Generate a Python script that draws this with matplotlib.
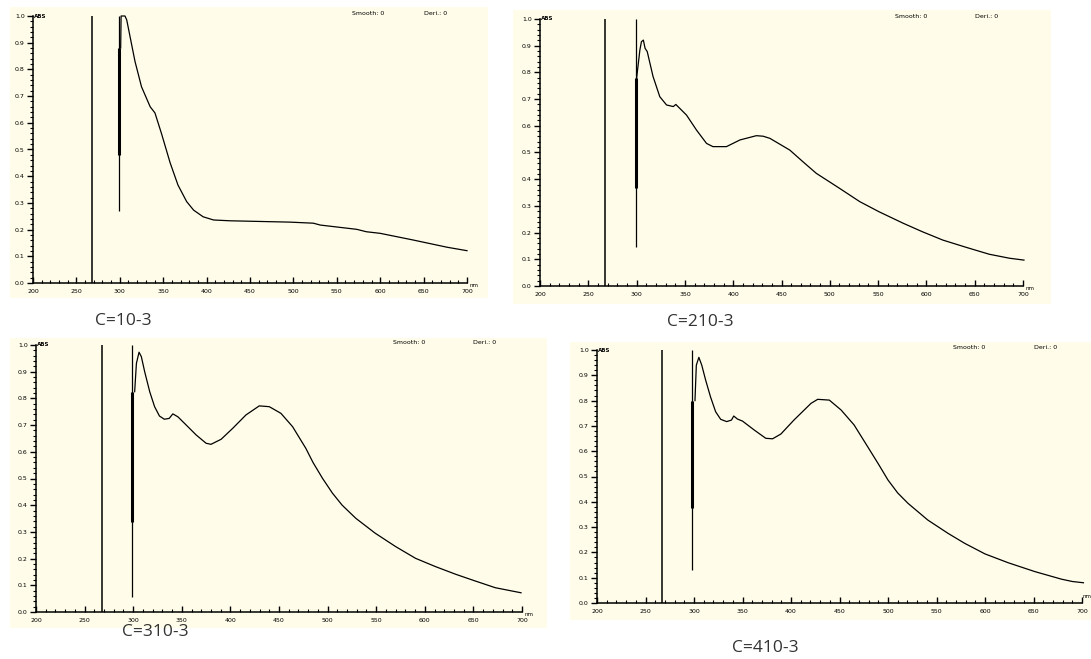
import matplotlib.pyplot as plt
from matplotlib.patches import Rectangle
from matplotlib.ticker import MultipleLocator, FormatStrFormatter

W, H = 1091, 659

# absorbance spectra, wavelength in nm
wl_1 = [301, 301.5, 306, 308, 317.5, 325, 335, 340.5, 348, 358, 367, 377, 385,
        396, 408, 427, 496, 523, 531, 573, 584, 600, 638, 677, 700]
abs_1 = [0.88, 1.0, 1.0, 0.985, 0.83, 0.735, 0.66, 0.637, 0.56, 0.45, 0.367,
         0.305, 0.273, 0.248, 0.236, 0.233, 0.228, 0.224, 0.217, 0.201, 0.192,
         0.186, 0.161, 0.134, 0.121]

wl_2 = [300, 303.4, 305, 307, 308.8, 311, 317, 324, 331, 338, 340.6, 351.7, 362,
        372.4, 379, 393, 407, 424, 431, 438, 458.6, 472, 486, 510, 531, 551,
        576, 596, 617, 641, 665, 686, 701]
abs_2 = [0.778, 0.884, 0.915, 0.921, 0.89, 0.878, 0.785, 0.709, 0.678, 0.672,
         0.68, 0.64, 0.584, 0.534, 0.522, 0.522, 0.547, 0.563, 0.561, 0.553,
         0.509, 0.466, 0.422, 0.366, 0.316, 0.278, 0.235, 0.203, 0.172, 0.145,
         0.119, 0.104, 0.097]

wl_3 = [301.5, 303.3, 306, 308.4, 311.8, 317, 322, 327, 332, 337, 340.8, 346,
        354.6, 364.8, 375, 380, 390.5, 402.4, 416, 429.7, 440, 452, 464, 477.6,
        485, 494.7, 505, 515, 529, 549, 570, 590.5, 611, 632, 652, 672.5, 699]
abs_3 = [0.825, 0.931, 0.973, 0.956, 0.90, 0.825, 0.769, 0.734, 0.722, 0.725,
         0.742, 0.731, 0.70, 0.663, 0.632, 0.628, 0.647, 0.688, 0.738, 0.772,
         0.769, 0.744, 0.694, 0.613, 0.56, 0.501, 0.445, 0.40, 0.351, 0.295,
         0.245, 0.201, 0.17, 0.141, 0.116, 0.091, 0.072]

wl_4 = [301, 302.4, 305, 308, 312, 317, 322.3, 327.5, 333.7, 338.6, 341, 344.8,
        350, 362, 374, 381, 389.6, 403, 420.6, 427.5, 439.5, 451.6, 465, 479,
        490, 500, 510, 520.6, 541, 562, 579, 600, 624, 651.5, 679, 690, 701.5]
abs_4 = [0.80, 0.94, 0.971, 0.94, 0.881, 0.815, 0.756, 0.726, 0.717, 0.723,
         0.739, 0.727, 0.719, 0.684, 0.651, 0.649, 0.668, 0.723, 0.789, 0.805,
         0.802, 0.763, 0.704, 0.618, 0.55, 0.486, 0.435, 0.394, 0.328, 0.275,
         0.236, 0.194, 0.159, 0.124, 0.094, 0.085, 0.080]

# lamp change line and detector spike near 300 nm
lamp_nm = [268, 267, 268.4, 267]
spike_nm = [299, 299.7, 299, 298]
spike_low = [0.27, 0.146, 0.056, 0.13]
spike_thick = [(0.48, 0.88), (0.367, 0.778), (0.338, 0.825), (0.374, 0.80)]

labels = ["C=10-3", "C=210-3", "C=310-3", "C=410-3"]

spectra = [(wl_1, abs_1), (wl_2, abs_2), (wl_3, abs_3), (wl_4, abs_4)]

# pixel boxes: axes (left, top, right, bottom), panel backgrounds, caption centres
axes_px = [(33, 16, 467, 283), (540, 19, 1023, 286),
           (36, 345, 522, 612), (597, 350, 1082, 603)]
bg_px = [(10, 7, 488, 298), (513, 10, 1051, 304),
         (10, 338, 547, 628), (570, 342, 1091, 620)]
cap_px = [(123, 321), (700, 322), (155, 632), (765, 648)]
# where the "nm" unit sits (data coords); the last panel runs up to the edge
nm_pos = [(703, -0.01), (703, -0.01), (703, -0.01), (700.5, 0.025)]

bg_col = "#FFFDE9"

fig = plt.figure(figsize=(W / 100, H / 100), dpi=100)

for i in range(4):
    x0, y0, x1, y1 = bg_px[i]
    fig.patches.append(Rectangle((x0 / W, 1 - y1 / H), (x1 - x0) / W, (y1 - y0) / H,
                                 transform=fig.transFigure, facecolor=bg_col,
                                 edgecolor="none", zorder=-1))

    l, t, r, b = axes_px[i]
    ax = fig.add_axes([l / W, 1 - b / H, (r - l) / W, (b - t) / H])
    ax.set_facecolor("none")
    ax.set_xlim(200, 700)
    ax.set_ylim(0, 1.0)

    wl, ab = spectra[i]
    ax.plot(wl, ab, color="black", lw=0.9, clip_on=False)
    ax.vlines(lamp_nm[i], 0, 1.0, color="black", lw=1.1)
    ax.vlines(spike_nm[i], spike_low[i], 1.0, color="black", lw=0.9)
    ax.vlines(spike_nm[i], spike_thick[i][0], spike_thick[i][1], color="black", lw=2.2)

    for side in ["top", "right"]:
        ax.spines[side].set_visible(False)
    for side in ["left", "bottom"]:
        ax.spines[side].set_linewidth(1.1)

    ax.xaxis.set_major_locator(MultipleLocator(50))
    ax.xaxis.set_minor_locator(MultipleLocator(10))
    ax.yaxis.set_major_locator(MultipleLocator(0.1))
    ax.yaxis.set_minor_locator(MultipleLocator(0.02))
    ax.yaxis.set_major_formatter(FormatStrFormatter("%.1f"))
    ax.tick_params(axis="x", which="major", direction="in", length=4, width=1,
                   labelsize=4.5, pad=4)
    ax.tick_params(axis="x", which="minor", direction="in", length=2, width=0.8)
    ax.tick_params(axis="y", which="major", direction="out", length=4, width=1,
                   labelsize=4.5, pad=2)
    ax.tick_params(axis="y", which="minor", direction="out", length=2, width=0.8)

    ax.text(201, 1.0, "ABS", fontsize=4, fontweight="bold", va="center", ha="left")
    ax.text(nm_pos[i][0], nm_pos[i][1], "nm", fontsize=4, va="center", ha="left",
            clip_on=False)
    ax.text(567, 1.01, "Smooth: 0", fontsize=4.5, va="center", ha="left")
    ax.text(650, 1.01, "Deri.: 0", fontsize=4.5, va="center", ha="left")

    cx, cy = cap_px[i]
    fig.text(cx / W, 1 - cy / H, labels[i], fontsize=12.5, family="Open Sans",
             color="#333333", ha="center", va="center")

fig.savefig("out.png", dpi=100, facecolor="white")
